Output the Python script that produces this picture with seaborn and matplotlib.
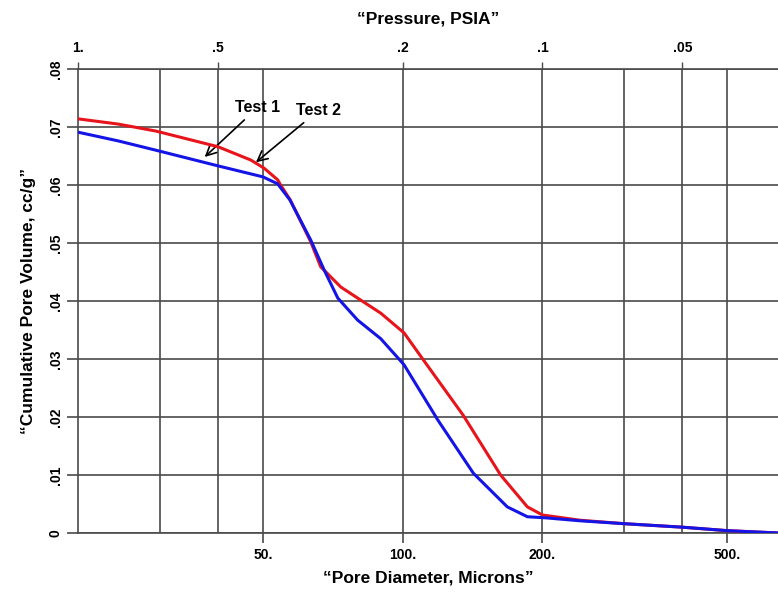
import pandas as pd
import matplotlib
matplotlib.use("Agg")
import matplotlib.pyplot as plt
from matplotlib.ticker import FixedLocator, NullFormatter
import seaborn as sns

# --- DATA ---
# Test 2 (red curve)
test2_diam = [20, 24.4, 29.4, 40, 47.1, 50.3, 53.8, 54.6, 57.2, 63.4, 66.6, 73.6, 80,
              89.7, 100.7, 110.9, 135, 162.5, 185.6, 200, 241, 300, 400, 500, 643]
test2_vol = [.0714, .0705, .0693, .0666, .0643, .0629, .0609, .0600, .0575, .0502, .0459,
             .0424, .0405, .0379, .0345, .0298, .0203, .0100, .0045, .0031, .0022, .0016,
             .0010, .0004, 0.0]

# Test 1 (blue curve)
test1_diam = [20, 24.4, 29.4, 40, 50, 53.8, 57.2, 63.4, 67.8, 72.5, 80, 89.7, 100.7, 119,
              142, 168, 185.6, 204, 241, 300, 400, 500, 643]
test1_vol = [.0691, .0676, .0660, .0633, .0614, .0602, .0574, .0505, .0453, .0405, .0367,
             .0335, .0290, .0195, .0103, .0045, .0028, .0026, .0021, .0016, .0010, .0004, 0.0]

bottom_ticks = [50, 100, 200, 500]
bottom_labels = ['50.', '100.', '200.', '500.']
minor_grid = [30, 40, 300, 400]
top_ticks = [20, 40, 100, 200, 400]
top_labels = ['1.', '.5', '.2', '.1', '.05']
y_ticks = [0, .01, .02, .03, .04, .05, .06, .07, .08]
y_labels = ['0', '.01', '.02', '.03', '.04', '.05', '.06', '.07', '.08']

GRID_COLOR = '#4a4a4a'
FONT = ['Liberation Sans', 'DejaVu Sans']


def make_plot():
    sns.set_style("white")
    plt.rcParams['font.family'] = FONT
    plt.rcParams['font.weight'] = 'bold'
    plt.rcParams['text.color'] = 'black'
    plt.rcParams['axes.labelcolor'] = 'black'
    plt.rcParams['xtick.labelcolor'] = 'black'
    plt.rcParams['ytick.labelcolor'] = 'black'

    df1 = pd.DataFrame({'Diameter': test1_diam, 'Volume': test1_vol})
    df2 = pd.DataFrame({'Diameter': test2_diam, 'Volume': test2_vol})

    fig = plt.figure(figsize=(7.78, 5.92), dpi=100)
    ax = fig.add_axes([0.1003, 0.0997, 0.8997, 0.7838])
    ax.set_xscale('log')

    sns.lineplot(data=df2, x='Diameter', y='Volume', color='#e8141c', linewidth=2.2,
                 ax=ax, zorder=4)
    sns.lineplot(data=df1, x='Diameter', y='Volume', color='#1414e6', linewidth=2.2,
                 ax=ax, zorder=5)

    ax.set_xlim(20, 643)
    ax.set_ylim(0, 0.08)

    # bottom axis
    ax.xaxis.set_major_locator(FixedLocator(bottom_ticks))
    ax.set_xticklabels(bottom_labels)
    ax.xaxis.set_minor_locator(FixedLocator(minor_grid))
    ax.xaxis.set_minor_formatter(NullFormatter())
    ax.tick_params(axis='x', which='major', direction='out', length=7, width=1.2,
                   color=GRID_COLOR, labelsize=10, pad=4, bottom=True, labelcolor='black')
    ax.tick_params(axis='x', which='minor', length=0)

    # left axis
    ax.set_yticks(y_ticks)
    ax.set_yticklabels(y_labels, rotation=90, va='center')
    ax.tick_params(axis='y', direction='out', length=8, width=1.2, color=GRID_COLOR,
                   labelsize=10, pad=3, left=True, labelcolor='black')

    ax.grid(True, which='both', axis='x', color=GRID_COLOR, linewidth=1.2)
    ax.grid(True, which='major', axis='y', color=GRID_COLOR, linewidth=1.2)
    ax.set_axisbelow(True)

    for side in ['left', 'bottom', 'top']:
        ax.spines[side].set_color(GRID_COLOR)
        ax.spines[side].set_linewidth(1.2)
    ax.spines['right'].set_visible(False)

    # top pressure axis
    top = ax.secondary_xaxis('top')
    top.set_xticks(top_ticks)
    top.set_xticklabels(top_labels)
    top.xaxis.set_minor_locator(FixedLocator([]))
    top.tick_params(axis='x', direction='out', length=5, width=1.0, color=GRID_COLOR,
                    labelsize=10, pad=5, labelcolor='black')
    top.spines['top'].set_visible(False)
    top.set_xlabel('\u201cPressure, PSIA\u201d', fontsize=12.5, fontweight='bold',
                   labelpad=13, color='black')

    ax.set_xlabel('\u201cPore Diameter, Microns\u201d', fontsize=12.5, fontweight='bold',
                  labelpad=6, color='black')
    ax.set_ylabel('\u201cCumulative Pore Volume, cc/g\u201d', fontsize=12.5, fontweight='bold',
                  labelpad=9, color='black')

    arrow = dict(arrowstyle='->', color='black', lw=1.2, mutation_scale=18)
    ax.annotate('Test 1', xy=(37.1, 0.0645), xytext=(48.8, 0.0734), ha='center',
                va='center', fontsize=11.5, fontweight='bold', arrowprops=arrow)
    ax.annotate('Test 2', xy=(47.8, 0.0636), xytext=(66, 0.0729), ha='center',
                va='center', fontsize=11.5, fontweight='bold', arrowprops=arrow)

    fig.savefig('out.png', dpi=100)


if __name__ == "__main__":
    make_plot()
